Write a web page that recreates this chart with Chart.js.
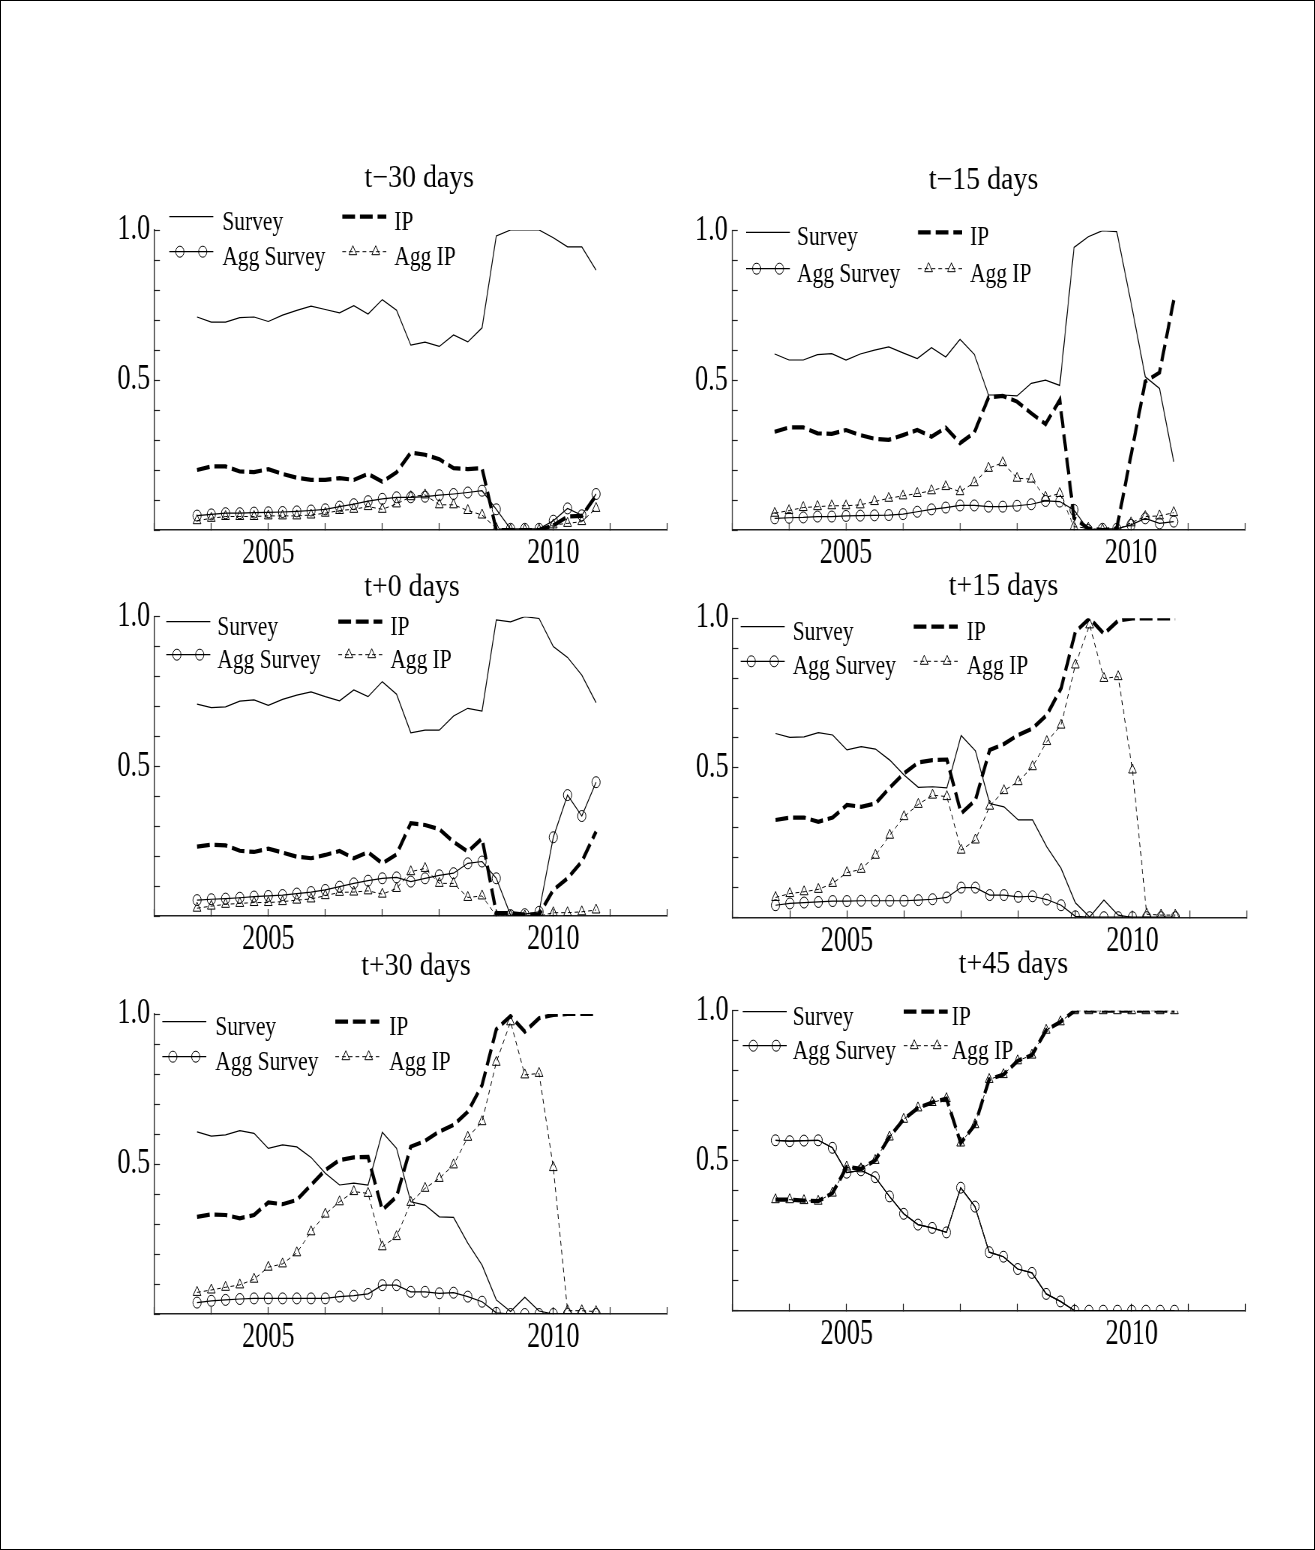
<!DOCTYPE html>
<html>
<head>
<meta charset="utf-8">
<title>Survey vs IP, six horizons</title>
<script src="https://cdn.jsdelivr.net/npm/chart.js@4.4.1/dist/chart.umd.min.js"></script>
<style>
  html, body { margin: 0; padding: 0; background: #fff; }
  #page { position: relative; width: 1315px; height: 1550px; overflow: hidden; background: #fff; }
  #page canvas { position: absolute; }
  #frame { position: absolute; left: 0; top: 0; width: 1315px; height: 1550px; box-sizing: border-box; border: 1px solid #000; pointer-events: none; }
</style>
</head>
<body>
<div id="page"><div id="frame"></div></div>
<script>
// Horizontal squeeze of every canvas (display px per drawing px)
const SQ = 0.75;
const Y_AXIS_W = 60;
const X_AXIS_H = 50;

// Quarterly observations
const quarters = [2003.75, 2004.0, 2004.25, 2004.5, 2004.75, 2005.0, 2005.25, 2005.5, 2005.75,
  2006.0, 2006.25, 2006.5, 2006.75, 2007.0, 2007.25, 2007.5, 2007.75, 2008.0, 2008.25, 2008.5,
  2008.75, 2009.0, 2009.25, 2009.5, 2009.75, 2010.0, 2010.25, 2010.5, 2010.75];

const xTickValues = [2005, 2010];
const xTickLabels = ['2005', '2010'];
const yTickValues = [0.5, 1.0];
const yTickLabels = ['0.5', '1.0'];
const seriesNames = ['Survey', 'IP', 'Agg Survey', 'Agg IP'];

// t-30 days
const surveyM30 = [0.71, 0.693, 0.693, 0.708, 0.71, 0.695, 0.716, 0.732, 0.746, 0.735, 0.724, 0.748, 0.72, 0.768, 0.733, 0.616, 0.626, 0.612, 0.65, 0.627, 0.674, 0.98, 1.0, 1.0, 1.0, 0.974, 0.944, 0.944, 0.866];
const ipM30 = [0.2, 0.212, 0.212, 0.195, 0.193, 0.203, 0.187, 0.174, 0.167, 0.167, 0.173, 0.167, 0.187, 0.161, 0.192, 0.258, 0.251, 0.236, 0.206, 0.203, 0.206, 0.0, 0.0, 0.0, 0.0, 0.015, 0.045, 0.047, 0.115];
const aggSurveyM30 = [0.048, 0.052, 0.056, 0.056, 0.058, 0.059, 0.06, 0.062, 0.065, 0.069, 0.078, 0.086, 0.096, 0.104, 0.109, 0.109, 0.111, 0.116, 0.12, 0.125, 0.131, 0.069, 0.004, 0.004, 0.004, 0.031, 0.072, 0.049, 0.12];
const aggIpM30 = [0.031, 0.039, 0.045, 0.045, 0.045, 0.047, 0.047, 0.047, 0.05, 0.056, 0.065, 0.069, 0.078, 0.069, 0.087, 0.111, 0.117, 0.084, 0.084, 0.065, 0.05, 0.005, 0.0, 0.0, 0.0, 0.017, 0.022, 0.028, 0.072];

// t-15 days
const surveyM15 = [0.588, 0.568, 0.568, 0.586, 0.589, 0.568, 0.588, 0.601, 0.612, 0.592, 0.573, 0.609, 0.578, 0.637, 0.587, 0.451, 0.451, 0.448, 0.49, 0.501, 0.483, 0.944, 0.98, 1.0, 0.997, 0.76, 0.512, 0.473, 0.228];
const ipM15 = [0.328, 0.343, 0.343, 0.323, 0.321, 0.334, 0.317, 0.305, 0.301, 0.317, 0.334, 0.312, 0.342, 0.29, 0.325, 0.443, 0.448, 0.429, 0.39, 0.354, 0.434, 0.04, 0.005, 0.0, 0.005, 0.25, 0.496, 0.526, 0.768];
const aggSurveyM15 = [0.039, 0.041, 0.042, 0.045, 0.045, 0.047, 0.048, 0.049, 0.05, 0.053, 0.061, 0.069, 0.075, 0.082, 0.082, 0.078, 0.078, 0.081, 0.086, 0.097, 0.095, 0.067, 0.0, 0.004, 0.004, 0.017, 0.039, 0.022, 0.028];
const aggIpM15 = [0.056, 0.065, 0.075, 0.078, 0.081, 0.081, 0.084, 0.095, 0.106, 0.114, 0.122, 0.131, 0.145, 0.128, 0.158, 0.206, 0.225, 0.173, 0.17, 0.109, 0.122, 0.011, 0.006, 0.0, 0.0, 0.024, 0.045, 0.047, 0.058];

// t+0 days
const surveyP0 = [0.708, 0.696, 0.699, 0.718, 0.722, 0.704, 0.724, 0.738, 0.749, 0.733, 0.719, 0.755, 0.733, 0.783, 0.741, 0.612, 0.621, 0.621, 0.668, 0.694, 0.685, 0.989, 0.983, 1.0, 0.994, 0.9, 0.864, 0.805, 0.713];
const ipP0 = [0.232, 0.238, 0.236, 0.218, 0.214, 0.225, 0.212, 0.198, 0.193, 0.204, 0.217, 0.193, 0.213, 0.176, 0.206, 0.31, 0.304, 0.29, 0.248, 0.215, 0.259, 0.01, 0.01, 0.005, 0.005, 0.087, 0.126, 0.182, 0.282];
const aggSurveyP0 = [0.053, 0.056, 0.058, 0.061, 0.065, 0.067, 0.07, 0.075, 0.08, 0.087, 0.098, 0.109, 0.118, 0.126, 0.129, 0.115, 0.126, 0.136, 0.143, 0.176, 0.182, 0.126, 0.003, 0.006, 0.014, 0.263, 0.404, 0.334, 0.447];
const aggIpP0 = [0.026, 0.033, 0.039, 0.042, 0.045, 0.045, 0.048, 0.053, 0.057, 0.068, 0.079, 0.08, 0.084, 0.073, 0.092, 0.148, 0.159, 0.109, 0.109, 0.062, 0.067, 0.0, 0.0, 0.0, 0.0, 0.011, 0.011, 0.014, 0.02];

// t+15 days
const surveyP15 = [0.615, 0.602, 0.604, 0.618, 0.61, 0.56, 0.571, 0.563, 0.526, 0.476, 0.435, 0.437, 0.433, 0.608, 0.557, 0.381, 0.37, 0.326, 0.326, 0.236, 0.164, 0.049, 0.002, 0.058, 0.008, 0.0, 0.0, 0.0, 0.0];
const ipP15 = [0.326, 0.334, 0.334, 0.32, 0.334, 0.376, 0.37, 0.381, 0.434, 0.482, 0.518, 0.526, 0.528, 0.348, 0.392, 0.56, 0.58, 0.61, 0.632, 0.677, 0.766, 0.955, 1.0, 0.948, 0.992, 1.0, 1.0, 1.0, 1.0];
const aggSurveyP15 = [0.041, 0.047, 0.05, 0.052, 0.055, 0.055, 0.056, 0.056, 0.056, 0.056, 0.058, 0.061, 0.067, 0.1, 0.1, 0.075, 0.075, 0.069, 0.071, 0.06, 0.041, 0.004, 0.001, 0.001, 0.001, 0.001, 0.001, 0.001, 0.001];
const aggIpP15 = [0.067, 0.08, 0.086, 0.094, 0.114, 0.15, 0.161, 0.208, 0.275, 0.337, 0.378, 0.409, 0.404, 0.225, 0.259, 0.372, 0.424, 0.454, 0.504, 0.588, 0.643, 0.844, 0.978, 0.799, 0.805, 0.493, 0.011, 0.008, 0.008];

// t+30 days
const surveyP30 = [0.607, 0.593, 0.597, 0.611, 0.602, 0.552, 0.564, 0.557, 0.522, 0.469, 0.43, 0.436, 0.43, 0.606, 0.552, 0.374, 0.363, 0.324, 0.322, 0.236, 0.163, 0.047, 0.008, 0.056, 0.01, 0.0, 0.0, 0.0, 0.0];
const ipP30 = [0.324, 0.332, 0.33, 0.319, 0.33, 0.372, 0.366, 0.38, 0.43, 0.48, 0.513, 0.522, 0.524, 0.347, 0.391, 0.558, 0.577, 0.608, 0.63, 0.674, 0.763, 0.949, 0.993, 0.941, 0.986, 0.997, 1.0, 1.0, 1.0];
const aggSurveyP30 = [0.038, 0.044, 0.047, 0.05, 0.052, 0.052, 0.052, 0.052, 0.052, 0.052, 0.058, 0.061, 0.067, 0.096, 0.096, 0.074, 0.074, 0.069, 0.071, 0.058, 0.041, 0.004, 0.0, 0.0, 0.0, 0.0, 0.0, 0.0, 0.0];
const aggIpP30 = [0.072, 0.08, 0.089, 0.097, 0.116, 0.156, 0.167, 0.204, 0.274, 0.333, 0.374, 0.408, 0.402, 0.224, 0.258, 0.372, 0.419, 0.452, 0.497, 0.589, 0.641, 0.839, 0.974, 0.797, 0.802, 0.488, 0.011, 0.011, 0.008];

// t+45 days (Survey lies on Agg Survey, IP lies on Agg IP)
const surveyP45 = [0.568, 0.565, 0.567, 0.568, 0.543, 0.46, 0.468, 0.445, 0.381, 0.323, 0.287, 0.276, 0.261, 0.41, 0.347, 0.195, 0.18, 0.139, 0.126, 0.056, 0.031, 0.0, 0.0, 0.0, 0.0, 0.0, 0.0, 0.0, 0.0];
const ipP45 = [0.37, 0.37, 0.367, 0.365, 0.392, 0.479, 0.473, 0.501, 0.579, 0.638, 0.676, 0.694, 0.707, 0.559, 0.62, 0.771, 0.787, 0.833, 0.852, 0.935, 0.963, 1.0, 1.0, 1.0, 1.0, 1.0, 1.0, 1.0, 1.0];
const aggSurveyP45 = [0.568, 0.565, 0.567, 0.568, 0.543, 0.46, 0.468, 0.445, 0.381, 0.323, 0.287, 0.276, 0.261, 0.41, 0.347, 0.195, 0.18, 0.139, 0.126, 0.056, 0.031, 0.0, 0.0, 0.0, 0.0, 0.0, 0.0, 0.0, 0.0];
const aggIpP45 = [0.37, 0.37, 0.367, 0.365, 0.392, 0.479, 0.473, 0.501, 0.579, 0.638, 0.676, 0.694, 0.707, 0.559, 0.62, 0.771, 0.787, 0.833, 0.852, 0.935, 0.963, 1.0, 1.0, 1.0, 1.0, 1.0, 1.0, 1.0, 1.0];

// Line look of each series
const seriesStyle = [
  { borderWidth: 1.2, borderDash: [], pointRadius: 0, pointStyle: 'circle' },
  { borderWidth: 4.2, borderDash: [17, 6.5], pointRadius: 0, pointStyle: 'circle' },
  { borderWidth: 1.2, borderDash: [], pointRadius: 5.5, pointStyle: 'circle' },
  { borderWidth: 1, borderDash: [5, 4], pointRadius: 6, pointStyle: 'triangle' }
];

// Panel placement (page px); title / legend offsets are relative to the plot corner
const panels = [
  { title: 't\u221230 days', series: [surveyM30, ipM30, aggSurveyM30, aggIpM30],
    axis: { left: 154.3, right: 667.3, top: 230, bottom: 530 },
    titleX: 265, titleY: -42.7, rows: [-13.3, 21.7], sampleX: [15, 188], textX: [68, 240] },
  { title: 't\u221215 days', series: [surveyM15, ipM15, aggSurveyM15, aggIpM15],
    axis: { left: 732, right: 1245, top: 230.7, bottom: 530 },
    titleX: 251.5, titleY: -41.4, rows: [1.7, 38], sampleX: [14, 186], textX: [65, 238] },
  { title: 't+0 days', series: [surveyP0, ipP0, aggSurveyP0, aggIpP0],
    axis: { left: 154.3, right: 667.3, top: 616.7, bottom: 916 },
    titleX: 257.7, titleY: -20.7, rows: [5, 38], sampleX: [12, 184], textX: [63, 236] },
  { title: 't+15 days', series: [surveyP15, ipP15, aggSurveyP15, aggIpP15],
    axis: { left: 732.7, right: 1246.7, top: 618.3, bottom: 917.5 },
    titleX: 270.8, titleY: -23.3, rows: [8.3, 43], sampleX: [8, 181], textX: [60, 234] },
  { title: 't+30 days', series: [surveyP30, ipP30, aggSurveyP30, aggIpP30],
    axis: { left: 154.3, right: 667.3, top: 1014, bottom: 1314 },
    titleX: 261.7, titleY: -39, rows: [7.7, 42.7], sampleX: [8, 181], textX: [61, 235] },
  { title: 't+45 days', series: [surveyP45, ipP45, aggSurveyP45, aggIpP45],
    axis: { left: 732.7, right: 1245.7, top: 1010.7, bottom: 1310.7 },
    titleX: 280.8, titleY: -38, rows: [1, 35], sampleX: [10, 171], textX: [60, 219] }
];

const SERIF = '"Liberation Serif", "Times New Roman", serif';

// Title and the in-plot two-column legend
const panelText = {
  id: 'panelText',
  afterDraw(chart, args, o) {
    const ctx = chart.ctx;
    const a = chart.chartArea;
    const px = v => a.left + v / SQ;
    ctx.save();
    ctx.fillStyle = '#000';
    ctx.strokeStyle = '#000';

    ctx.save();
    ctx.font = '31px ' + SERIF;
    ctx.textAlign = 'center';
    ctx.textBaseline = 'alphabetic';
    ctx.translate(px(o.titleX), a.top + o.titleY);
    ctx.scale(1.2, 1);
    ctx.fillText(o.title, 0, 0);
    ctx.restore();

    chart.data.datasets.forEach((ds, i) => {
      const row = Math.floor(i / 2);
      const col = i % 2;
      const y = a.top + o.rows[row];
      const x0 = px(o.sampleX[col]);
      const x1 = px(o.sampleX[col] + 44);
      ctx.save();
      ctx.lineWidth = ds.borderWidth;
      ctx.setLineDash(ds.borderDash);
      ctx.beginPath();
      ctx.moveTo(x0, y);
      ctx.lineTo(x1, y);
      ctx.stroke();
      ctx.setLineDash([]);
      if (ds.pointRadius > 0) {
        ctx.lineWidth = ds.pointBorderWidth;
        const r = ds.pointRadius;
        [0.24, 0.76].forEach(f => {
          const cx = x0 + (x1 - x0) * f;
          ctx.beginPath();
          if (ds.pointStyle === 'triangle') {
            const hw = r * Math.sin(2 * Math.PI / 3);
            ctx.moveTo(cx, y - r);
            ctx.lineTo(cx + hw, y + r / 2);
            ctx.lineTo(cx - hw, y + r / 2);
            ctx.closePath();
          } else {
            ctx.arc(cx, y, r, 0, 2 * Math.PI);
          }
          ctx.stroke();
        });
      }
      ctx.font = '27px ' + SERIF;
      ctx.textAlign = 'left';
      ctx.textBaseline = 'alphabetic';
      ctx.translate(px(o.textX[col]), y + 13);
      ctx.scale(1.06, 1);
      ctx.fillText(seriesNames[i], 0, 0);
      ctx.restore();
    });
    ctx.restore();
  }
};

function tickFromList(values, labels) {
  return v => {
    const k = values.findIndex(t => Math.abs(t - v) < 1e-9);
    return k < 0 ? '' : labels[k];
  };
}

const page = document.getElementById('page');

panels.forEach(p => {
  const ax = p.axis;
  const left = Math.round(ax.left - 55);
  const top = Math.round(ax.top - 85);
  const iw = 820;
  const h = Math.round(ax.bottom - top + 55);

  const canvas = document.createElement('canvas');
  canvas.width = iw;
  canvas.height = h;
  canvas.style.left = left + 'px';
  canvas.style.top = top + 'px';
  canvas.style.width = (iw * SQ) + 'px';
  canvas.style.height = h + 'px';
  page.insertBefore(canvas, document.getElementById('frame'));

  const datasets = p.series.map((vals, i) => ({
    label: seriesNames[i],
    data: quarters.map((q, j) => ({ x: q, y: vals[j] })),
    borderColor: '#000',
    borderWidth: seriesStyle[i].borderWidth,
    borderDash: seriesStyle[i].borderDash,
    pointRadius: seriesStyle[i].pointRadius,
    pointStyle: seriesStyle[i].pointStyle,
    pointBorderWidth: 1,
    pointBorderColor: '#000',
    pointBackgroundColor: 'rgba(0,0,0,0)',
    fill: false,
    tension: 0
  }));

  new Chart(canvas, {
    type: 'line',
    data: { datasets },
    plugins: [panelText],
    options: {
      responsive: false,
      devicePixelRatio: 1,
      animation: false,
      events: [],
      layout: {
        padding: {
          left: (ax.left - left) / SQ - Y_AXIS_W,
          right: iw - (ax.right - left) / SQ,
          top: ax.top - top,
          bottom: h - (ax.bottom - top) - X_AXIS_H
        }
      },
      plugins: {
        legend: { display: false },
        tooltip: { enabled: false },
        panelText: { title: p.title, titleX: p.titleX, titleY: p.titleY, rows: p.rows, sampleX: p.sampleX, textX: p.textX }
      },
      scales: {
        x: {
          type: 'linear',
          min: 2003,
          max: 2012,
          afterFit: s => { s.height = X_AXIS_H; },
          border: { display: true, color: '#222', width: 1.4 },
          grid: { drawOnChartArea: false, drawTicks: true, tickLength: -7, tickColor: '#222', tickWidth: 1.2 },
          ticks: {
            stepSize: 1, autoSkip: false, maxRotation: 0, minRotation: 0, padding: 10,
            color: '#000', font: { family: SERIF, size: 35, lineHeight: 1.2 },
            callback: tickFromList(xTickValues, xTickLabels)
          }
        },
        y: {
          type: 'linear',
          min: 0,
          max: 1,
          afterFit: s => { s.width = Y_AXIS_W; },
          border: { display: true, color: '#222', width: 1.4 },
          grid: { drawOnChartArea: false, drawTicks: true, tickLength: -7.5, tickColor: '#222', tickWidth: 1.2 },
          ticks: {
            stepSize: 0.1, autoSkip: false, padding: 13,
            color: '#000', font: { family: SERIF, size: 35, lineHeight: 1.2 },
            callback: tickFromList(yTickValues, yTickLabels)
          }
        }
      }
    }
  });
});
</script>
</body>
</html>
